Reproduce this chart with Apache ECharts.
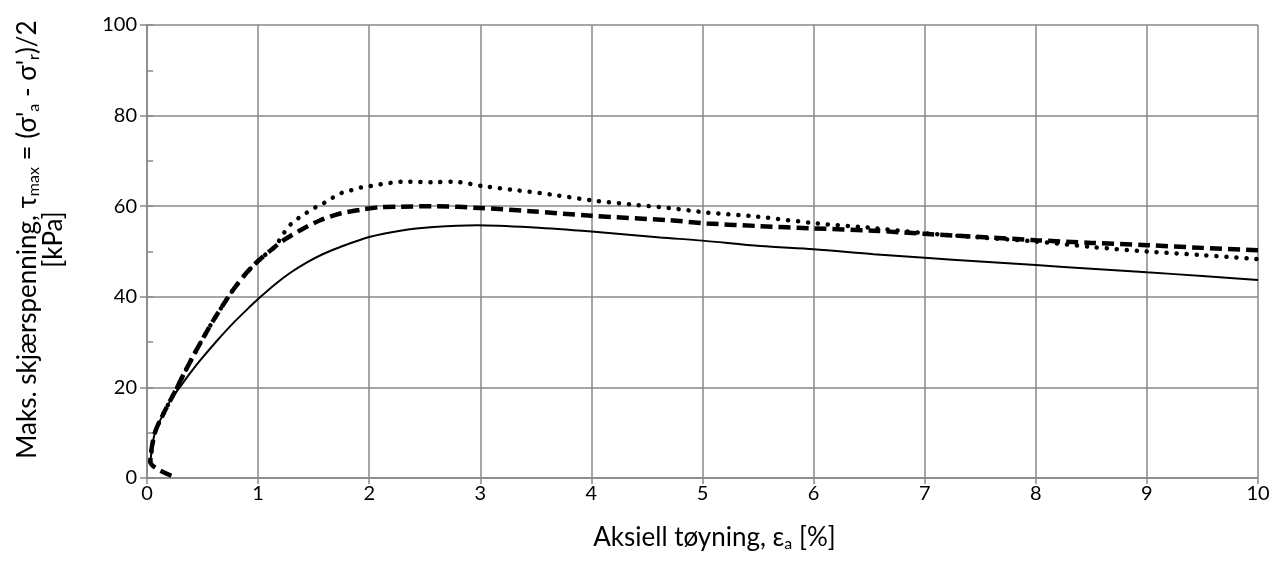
<!DOCTYPE html>
<html><head><meta charset="utf-8">
<script src="https://cdn.jsdelivr.net/npm/echarts@6/dist/echarts.min.js"></script>
<style>html,body{margin:0;padding:0;background:#fff}#c{width:1274px;height:574px}</style>
</head><body><div id="c"></div>
<script>
const xTicks = [0,1,2,3,4,5,6,7,8,9,10];
const yTicks = [0,20,40,60,80,100];

const solidSeries = [[0.03,3.5],[0.07,9.9],[0.15,14.3],[0.22,17.5],[0.30,20.2],[0.39,23.2],[0.48,26.0],[0.63,30.3],[0.78,34.3],[0.93,37.9],[1.0,39.5],[1.14,42.5],[1.29,45.3],[1.44,47.6],[1.59,49.5],[1.74,51.0],[2.0,53.2],[2.28,54.6],[2.58,55.4],[2.97,55.8],[3.48,55.3],[4.0,54.4],[4.62,53.1],[5.0,52.4],[5.52,51.2],[6.0,50.5],[6.54,49.4],[7.0,48.6],[7.5,47.8],[8.0,47.0],[8.5,46.2],[9.0,45.4],[9.5,44.6],[10.0,43.7]];

const dashedSeries = [[0.22,0.5],[0.03,3.6],[0.07,9.9],[0.15,14.3],[0.25,19.0],[0.33,22.9],[0.42,27.1],[0.51,31.1],[0.60,34.9],[0.69,38.4],[0.78,41.7],[0.90,45.4],[1.0,47.9],[1.14,50.8],[1.23,52.5],[1.38,54.7],[1.56,56.9],[1.74,58.4],[1.92,59.2],[2.1,59.8],[2.28,59.9],[2.6,60.0],[3.0,59.6],[3.45,58.9],[4.0,57.9],[4.7,56.9],[5.04,56.2],[5.52,55.6],[6.0,55.1],[6.54,54.6],[7.0,53.9],[7.5,53.2],[8.0,52.5],[8.5,51.9],[9.0,51.4],[9.5,50.8],[10.0,50.3]];

const dottedSeries = [[0.03,3.6],[0.07,9.9],[0.15,14.3],[0.25,19.0],[0.33,22.9],[0.42,27.1],[0.51,31.1],[0.60,34.9],[0.69,38.4],[0.78,41.7],[0.90,45.4],[1.0,47.9],[1.08,49.6],[1.15,51.0],[1.23,54.0],[1.29,55.9],[1.36,57.3],[1.44,58.6],[1.52,59.8],[1.60,60.8],[1.68,62.0],[1.76,63.0],[1.85,63.6],[1.94,64.2],[2.03,64.5],[2.12,64.9],[2.21,65.2],[2.31,65.4],[2.58,65.3],[2.76,65.4],[3.03,64.4],[3.30,63.6],[3.66,62.5],[4.03,61.2],[4.39,60.3],[4.7,59.6],[5.04,58.6],[5.49,57.7],[6.03,56.2],[6.48,55.3],[7.02,54.0],[7.5,53.1],[8.0,52.2],[8.5,51.0],[9.0,50.0],[9.5,49.2],[10.0,48.3]];

const FONT = 'Lato';
const gridColor = '#898989';
const chart = echarts.init(document.getElementById('c'), null, {renderer:'canvas'});
const rich = {
  m: {fontFamily: FONT, fontSize: 26, color: '#000', lineHeight: 26},
  s: {fontFamily: FONT, fontSize: 16, color: '#000', lineHeight: 15, padding: [11, 0, 0, 0]}
};
chart.setOption({
  animation: false,
  grid: {left: 147, right: 16, top: 25, bottom: 96, containLabel: false},
  xAxis: {
    type: 'value', min: 0, max: 10, interval: 1,
    axisLine: {show: true, lineStyle: {color: gridColor, width: 1.5}},
    axisTick: {show: true, length: 6, lineStyle: {color: gridColor, width: 1.5}},
    splitLine: {show: true, lineStyle: {color: gridColor, width: 1.5}},
    axisLabel: {fontFamily: FONT, fontSize: 20, color: '#000', margin: 6,
      formatter: v => xTicks.includes(v) ? String(v) : ''},
    name: '{m|Aksiell tøyning, ε}{s|a}{m| [%]}',
    nameLocation: 'middle', nameGap: 47,
    nameTextStyle: {fontFamily: FONT, fontSize: 26, color: '#000', rich: rich, padding: [0, 0, 0, 24]}
  },
  yAxis: [{
    type: 'value', min: 0, max: 100, interval: 20,
    axisLine: {show: true, lineStyle: {color: gridColor, width: 1.5}},
    axisTick: {show: true, length: 7, lineStyle: {color: gridColor, width: 1.5}},
    splitLine: {show: true, lineStyle: {color: gridColor, width: 1.5}},
    axisLabel: {fontFamily: FONT, fontSize: 20, color: '#000', margin: 10,
      formatter: v => yTicks.includes(v) ? String(v) : ''},
    name: "{m|Maks. skjærspenning, τ}{s|max}{m| = (σ'}{s|a}{m| - σ'}{s|r}{m|)/2}\n{m|[kPa]}",
    nameLocation: 'middle', nameGap: 80, nameRotate: 90,
    nameTextStyle: {fontFamily: FONT, fontSize: 26, color: '#000', rich: rich, align: 'center', padding: [0, 0, 0, 24]}
  },{
    type: 'value', min: 0, max: 100, interval: 10, position: 'left',
    axisLine: {show: false},
    axisTick: {show: true, inside: true, length: 6, lineStyle: {color: gridColor, width: 1.5}},
    splitLine: {show: false},
    axisLabel: {show: false}
  }],
  series: [
    {type: 'line', data: solidSeries, showSymbol: false, smooth: 0.3, z: 3,
      lineStyle: {color: '#000', width: 2}},
    {type: 'line', data: dashedSeries, showSymbol: false, smooth: 0.3, z: 4,
      lineStyle: {color: '#000', width: 4.5, type: [12, 6]}},
    {type: 'line', data: dottedSeries, showSymbol: false, smooth: 0.3, z: 3,
      lineStyle: {color: '#000', width: 4.5, type: [0.1, 9.9], cap: 'round'}}
  ]
});
</script></body></html>
